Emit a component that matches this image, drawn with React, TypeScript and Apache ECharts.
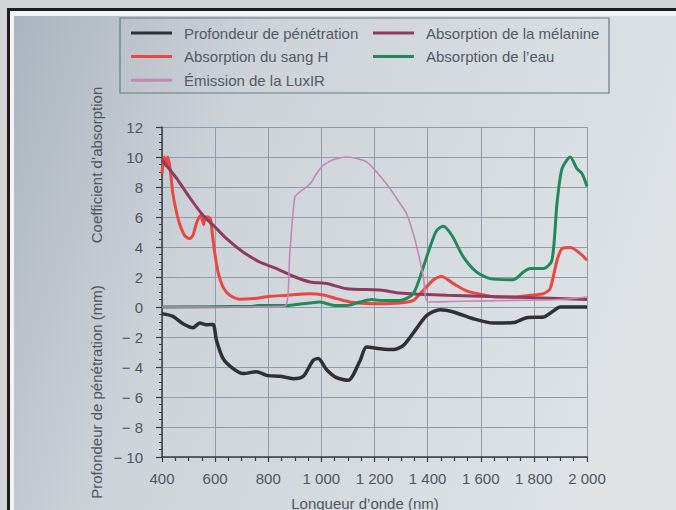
import React, { useEffect, useRef } from "react";
import * as echarts from "echarts";

const seriesNames = [
  "Profondeur de pénétration",
  "Absorption du sang H",
  "Émission de la LuxIR",
  "Absorption de la mélanine",
  "Absorption de l’eau",
];

const xTicks = [400, 600, 800, 1000, 1200, 1400, 1600, 1800, 2000];
const yTicks = [-10, -8, -6, -4, -2, 0, 2, 4, 6, 8, 10, 12];

const depthNm = [400, 441, 479, 517, 542, 567, 592, 605, 630, 668, 705, 756, 794, 844, 894, 932, 969, 988, 1020, 1057, 1101, 1145, 1170, 1221, 1271, 1309, 1353, 1397, 1447, 1497, 1572, 1648, 1723, 1773, 1836, 1868, 1899, 2000];
const depthVal = [-0.44, -0.62, -1.11, -1.38, -1.07, -1.18, -1.16, -2.22, -3.44, -4.11, -4.44, -4.31, -4.56, -4.62, -4.78, -4.62, -3.56, -3.44, -4.18, -4.71, -4.89, -3.6, -2.67, -2.78, -2.84, -2.56, -1.56, -0.56, -0.18, -0.33, -0.78, -1.07, -1.04, -0.71, -0.67, -0.33, 0, 0];

const bloodNm = [400, 408, 415, 422, 430, 441, 455, 467, 485, 504, 517, 530, 545, 552, 557, 563, 575, 583, 590, 599, 611, 630, 655, 693, 743, 806, 869, 957, 1007, 1057, 1120, 1221, 1296, 1346, 1384, 1422, 1453, 1497, 1547, 1598, 1661, 1723, 1786, 1836, 1861, 1887, 1906, 1937, 1975, 2000];
const bloodVal = [8.9, 10.0, 9.4, 10.0, 9.3, 7.56, 6.3, 5.5, 4.78, 4.56, 4.8, 5.6, 6.1, 5.8, 5.5, 6.0, 6.0, 5.8, 4.8, 3.56, 2.33, 1.33, 0.78, 0.52, 0.56, 0.71, 0.78, 0.89, 0.8, 0.56, 0.3, 0.22, 0.27, 0.44, 1.11, 1.82, 2.04, 1.56, 1.07, 0.85, 0.67, 0.67, 0.78, 0.89, 1.22, 3.1, 3.89, 3.96, 3.56, 3.11];

const luxNm = [400, 862, 881, 900, 919, 944, 963, 982, 1007, 1044, 1095, 1133, 1170, 1213, 1258, 1296, 1321, 1346, 1365, 1384, 1403, 1523, 1723, 1900, 2000];
const luxVal = [0, 0.05, 3.56, 7.33, 7.67, 8.0, 8.33, 8.9, 9.44, 9.82, 10.0, 9.9, 9.67, 8.9, 7.9, 6.9, 6.22, 4.89, 3.56, 2.0, 0.33, 0.38, 0.44, 0.5, 0.67];

const melaninNm = [400, 454, 504, 555, 593, 643, 705, 768, 831, 894, 957, 1020, 1095, 1221, 1296, 1371, 1472, 1600, 1800, 2000];
const melaninVal = [9.8, 8.6, 7.3, 6.1, 5.45, 4.56, 3.67, 3.0, 2.56, 2.05, 1.67, 1.56, 1.22, 1.13, 0.93, 0.85, 0.78, 0.72, 0.62, 0.5];

const waterNm = [400, 740, 760, 870, 920, 957, 994, 1044, 1095, 1145, 1190, 1221, 1296, 1346, 1384, 1409, 1434, 1459, 1491, 1535, 1585, 1635, 1723, 1761, 1786, 1836, 1868, 1887, 1906, 1937, 1962, 1981, 2000];
const waterVal = [0, 0.05, 0.1, 0.1, 0.2, 0.27, 0.33, 0.12, 0.1, 0.33, 0.5, 0.44, 0.44, 0.89, 2.67, 4.0, 5.1, 5.38, 4.78, 3.33, 2.33, 1.89, 1.82, 2.33, 2.56, 2.56, 3.11, 6.9, 9.22, 10.0, 9.22, 8.9, 8.04];

const colors = ["#2e3034", "#e9473f", "#c487b4", "#8f3b5e", "#23875c"];
const widths = [3.5, 3, 1.6, 3, 3];

const pairs = (xs: number[], ys: number[]) => xs.map((x, i) => [x, ys[i]]);

const FONT = "'Liberation Sans', Arial, sans-serif";
const TXT = "#4f5660";

export default function App() {
  const ref = useRef<HTMLDivElement>(null);
  useEffect(() => {
    if (!ref.current) return;
    document.documentElement.style.overflow = "hidden";
    document.body.style.margin = "0";
    document.body.style.overflow = "hidden";
    const chart = echarts.init(ref.current, undefined, { renderer: "svg" });
    const data = [
      pairs(depthNm, depthVal),
      pairs(bloodNm, bloodVal),
      pairs(luxNm, luxVal),
      pairs(melaninNm, melaninVal),
      pairs(waterNm, waterVal),
    ];
    const legendText = {
      fontSize: 15,
      color: "#525a64",
      fontFamily: FONT,
      padding: [0, 0, 0, 7],
      lineHeight: 16,
    };
    const legendBase = {
      orient: "vertical",
      top: 25,
      padding: 0,
      itemGap: 7.6,
      itemWidth: 41,
      itemHeight: 3,
      icon: "rect",
      selectedMode: false,
      textStyle: legendText,
    };
    const option: any = {
      animation: false,
      backgroundColor: "#dde1e4",
      textStyle: { fontFamily: FONT },
      color: colors,
      grid: { left: 162, right: 89, top: 127, bottom: 53, containLabel: false },
      legend: [
        { ...legendBase, data: [seriesNames[0], seriesNames[1], seriesNames[2]], left: 131 },
        { ...legendBase, data: [seriesNames[3], seriesNames[4]], left: 373 },
      ],
      xAxis: {
        type: "value",
        min: xTicks[0],
        max: xTicks[xTicks.length - 1],
        interval: 200,
        axisLine: { onZero: false, lineStyle: { color: "#3a3d42", width: 1.5 } },
        axisTick: { show: true, length: 5, lineStyle: { color: "#3a3d42", width: 1.2 } },
        minorTick: { show: true, splitNumber: 4, length: 4, lineStyle: { color: "#3a3d42", width: 1.2 } },
        splitLine: { show: true, lineStyle: { color: "#8f9aab", width: 1 } },
        axisLabel: {
          margin: 14,
          fontSize: 15,
          color: TXT,
          fontFamily: FONT,
          formatter: (v: number) => (v >= 1000 ? Math.floor(v / 1000) + " " + String(v % 1000).padStart(3, "0") : String(v)),
        },
      },
      yAxis: {
        type: "value",
        min: yTicks[0],
        max: yTicks[yTicks.length - 1],
        interval: 2,
        axisLine: { show: true, lineStyle: { color: "#3a3d42", width: 1.5 } },
        axisTick: { show: true, length: 6, lineStyle: { color: "#3a3d42", width: 1.2 } },
        minorTick: { show: true, splitNumber: 4, length: 3, lineStyle: { color: "#3a3d42", width: 1 } },
        splitLine: { show: true, lineStyle: { color: "#8f9aab", width: 1 } },
        axisLabel: {
          margin: 19,
          fontSize: 15,
          color: TXT,
          fontFamily: FONT,
          formatter: (v: number) => (v < 0 ? "− " + Math.abs(v) : String(v)),
        },
      },
      graphic: [
        { type: "rect", z: -100, silent: true, shape: { x: 0, y: 0, width: 676, height: 8 }, style: { fill: "#d2d4d6" } },
        { type: "rect", z: -100, silent: true, shape: { x: 0, y: 0, width: 7, height: 510 }, style: { fill: "#d2d4d6" } },
        {
          type: "rect",
          z: -98,
          silent: true,
          shape: { x: 14, y: 16, width: 662, height: 494 },
          style: {
            fill: new echarts.graphic.LinearGradient(14, 16, 676, 250, [
              { offset: 0, color: "#abb4bf" },
              { offset: 0.35, color: "#cdd3d9" },
              { offset: 1, color: "#dfe3e6" },
            ], true),
          },
        },
        { type: "rect", z: -97, silent: true, shape: { x: 10, y: 11, width: 666, height: 5 }, style: { fill: "#f4f4f4" } },
        { type: "rect", z: -97, silent: true, shape: { x: 10, y: 11, width: 4, height: 499 }, style: { fill: "#f4f4f4" } },
        { type: "rect", z: -96, silent: true, shape: { x: 7, y: 8, width: 669, height: 3 }, style: { fill: "#1c1c1c" } },
        { type: "rect", z: -96, silent: true, shape: { x: 7, y: 8, width: 3, height: 502 }, style: { fill: "#1c1c1c" } },
        {
          type: "rect",
          silent: true,
          shape: { x: 120, y: 18, width: 489, height: 75 },
          style: { fill: "none", stroke: "#627c86", lineWidth: 1.2 },
        },
        {
          type: "text",
          x: 96,
          y: 165,
          rotation: Math.PI / 2,
          style: { text: "Coefficient d’absorption", font: `15px ${FONT}`, fill: TXT, align: "center", verticalAlign: "middle" },
        },
        {
          type: "text",
          x: 96,
          y: 392,
          rotation: Math.PI / 2,
          style: { text: "Profondeur de pénétration (mm)", font: `15px ${FONT}`, fill: TXT, align: "center", verticalAlign: "middle" },
        },
        {
          type: "text",
          x: 365,
          y: 503,
          style: { text: "Longueur d’onde (nm)", font: `15px ${FONT}`, fill: TXT, align: "center", verticalAlign: "middle" },
        },
      ],
      series: seriesNames.map((name, i) => ({
        name,
        type: "line",
        data: data[i],
        showSymbol: false,
        smooth: 0.25,
        z: i === 2 ? 3 : 2,
        lineStyle: { color: colors[i], width: widths[i] },
        itemStyle: { color: colors[i] },
      })),
    };
    chart.setOption(option);
    return () => chart.dispose();
  }, []);
  return <div ref={ref} style={{ position: "fixed", left: 0, top: 0, width: 676, height: 510 }} />;
}
